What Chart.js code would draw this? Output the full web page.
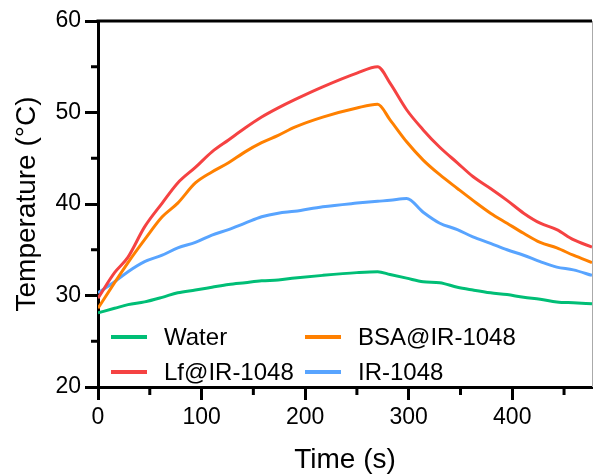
<!DOCTYPE html>
<html>
<head>
<meta charset="utf-8">
<script src="https://cdn.jsdelivr.net/npm/chart.js@4.4.1/dist/chart.umd.min.js"></script>
<style>
  html, body { margin: 0; padding: 0; background: #fff; }
  #wrap { width: 593px; height: 476px; }
</style>
</head>
<body>
<div id="wrap"><canvas id="myChart" width="593" height="476"></canvas></div>
<script>
// time points (s)
var times = [0, 16, 29, 45, 62, 77, 94, 110, 126, 142, 158, 174, 190, 217, 250, 270, 282, 298, 314, 330, 347, 362, 379, 395, 411, 427, 443, 459, 477];

var water = [28.1, 28.6, 29.0, 29.3, 29.8, 30.3, 30.6, 30.9, 31.2, 31.4, 31.6, 31.7, 31.9, 32.2, 32.5, 32.6, 32.3, 31.9, 31.5, 31.4, 30.9, 30.6, 30.3, 30.1, 29.8, 29.6, 29.3, 29.2, 29.1];
var lfIR = [29.7, 32.5, 34.2, 37.5, 40.1, 42.3, 44.0, 45.7, 47.0, 48.3, 49.5, 50.5, 51.4, 52.8, 54.3, 55.0, 53.2, 50.3, 48.1, 46.2, 44.5, 43.0, 41.7, 40.4, 39.0, 37.9, 37.2, 36.1, 35.3];
var bsaIR = [28.6, 31.4, 33.6, 36.1, 38.6, 40.1, 42.3, 43.5, 44.5, 45.7, 46.7, 47.5, 48.4, 49.5, 50.5, 50.9, 49.2, 46.8, 44.8, 43.2, 41.7, 40.4, 39.0, 37.9, 36.8, 35.8, 35.2, 34.4, 33.6];
var ir1048 = [30.3, 31.5, 32.6, 33.7, 34.4, 35.2, 35.8, 36.6, 37.2, 37.9, 38.6, 39.0, 39.2, 39.7, 40.1, 40.3, 40.4, 40.6, 39.1, 37.9, 37.2, 36.4, 35.7, 35.0, 34.4, 33.7, 33.1, 32.8, 32.2];

var xTicks = [0, 100, 200, 300, 400];
var yTicks = [20, 30, 40, 50, 60];
var xMinor = [50, 150, 250, 350, 450];
var yMinor = [25, 35, 45, 55];

function pts(arr) {
    return times.map(function (t, i) { return { x: t, y: arr[i] }; });
}

var FONT = "'Liberation Sans', Arial, sans-serif";

var frame = {
    id: 'frame',
    afterDatasetsDraw: function (chart) {
        var c = chart.ctx, a = chart.chartArea;
        var xs = chart.scales.x, ys = chart.scales.y;
        c.save();
        // top border
        c.strokeStyle = '#000';
        c.lineWidth = 3;
        c.beginPath();
        c.moveTo(a.left - 1.5, a.top);
        c.lineTo(a.right, a.top);
        c.stroke();
        // right border
        c.strokeStyle = '#aaa';
        c.lineWidth = 1;
        c.beginPath();
        c.moveTo(a.right + 0.5, a.top);
        c.lineTo(a.right + 0.5, a.bottom);
        c.stroke();
        // minor ticks
        c.strokeStyle = '#000';
        c.lineWidth = 3;
        xMinor.forEach(function (v) {
            var px = xs.getPixelForValue(v);
            c.beginPath();
            c.moveTo(px, a.bottom);
            c.lineTo(px, a.bottom + 8);
            c.stroke();
        });
        yMinor.forEach(function (v) {
            var py = ys.getPixelForValue(v);
            c.beginPath();
            c.moveTo(a.left, py);
            c.lineTo(a.left - 7, py);
            c.stroke();
        });
        // legend
        var ds = chart.data.datasets;
        var spots = [
            [a.left + 13, a.bottom - 50],
            [a.left + 13, a.bottom - 15],
            [a.left + 207, a.bottom - 50],
            [a.left + 207, a.bottom - 15]
        ];
        c.font = '24px ' + FONT;
        c.textBaseline = 'middle';
        c.textAlign = 'left';
        ds.forEach(function (d, i) {
            var s = spots[i];
            c.strokeStyle = d.borderColor;
            c.lineWidth = 4;
            c.beginPath();
            c.moveTo(s[0], s[1]);
            c.lineTo(s[0] + 36, s[1]);
            c.stroke();
            c.fillStyle = '#000';
            c.fillText(d.label, s[0] + 53, s[1] + 1);
        });
        c.restore();
    }
};

var ctx = document.getElementById('myChart').getContext('2d');
var myChart = new Chart(ctx, {
    type: 'line',
    data: {
        datasets: [
            { label: 'Water', data: pts(water), borderColor: 'rgb(0, 190, 118)' },
            { label: 'Lf@IR-1048', data: pts(lfIR), borderColor: 'rgb(245, 66, 66)' },
            { label: 'BSA@IR-1048', data: pts(bsaIR), borderColor: 'rgb(255, 128, 0)' },
            { label: 'IR-1048', data: pts(ir1048), borderColor: 'rgb(88, 164, 255)' }
        ]
    },
    options: {
        responsive: false,
        animation: false,
        elements: {
            point: { radius: 0 },
            line: { borderWidth: 3, cubicInterpolationMode: 'monotone' }
        },
        layout: { padding: { top: 21, right: 1, left: 0, bottom: 0 } },
        plugins: {
            legend: { display: false },
            tooltip: { enabled: false }
        },
        scales: {
            x: {
                type: 'linear',
                min: 0,
                max: 477,
                afterBuildTicks: function (s) { s.ticks = xTicks.map(function (v) { return { value: v }; }); },
                ticks: { color: '#000', font: { family: FONT, size: 23 }, padding: 4, maxRotation: 0 },
                grid: { drawOnChartArea: false, tickLength: 13, tickWidth: 3, tickColor: '#000' },
                border: { color: '#000', width: 3 },
                title: { display: true, text: 'Time (s)', color: '#000', font: { family: FONT, size: 28 }, padding: { top: 0, bottom: -1 } },
                afterFit: function (s) { s.height = 89; }
            },
            y: {
                min: 20,
                max: 60,
                afterBuildTicks: function (s) { s.ticks = yTicks.map(function (v) { return { value: v }; }); },
                ticks: { color: '#000', font: { family: FONT, size: 23 }, padding: 4 },
                grid: { drawOnChartArea: false, tickLength: 13, tickWidth: 3, tickColor: '#000' },
                border: { color: '#000', width: 3 },
                title: { display: true, text: 'Temperature (°C)', color: '#000', font: { family: FONT, size: 28 }, padding: { top: 10, bottom: 0 } },
                afterFit: function (s) { s.width = 98; }
            }
        }
    },
    plugins: [frame]
});
</script>
</body>
</html>
